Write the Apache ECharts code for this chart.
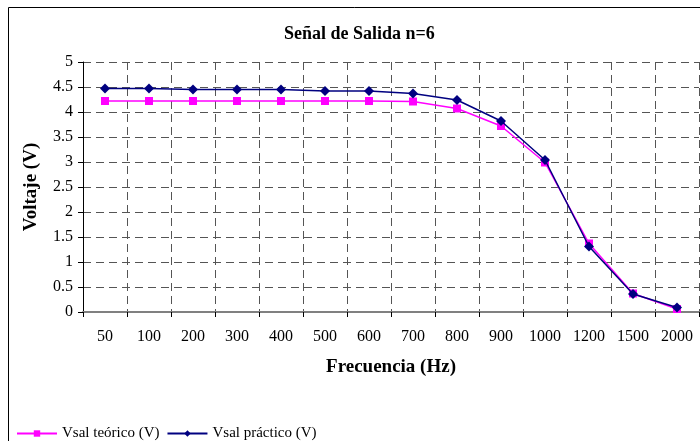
<!DOCTYPE html>
<html>
<head>
<meta charset="utf-8">
<script src="https://cdn.jsdelivr.net/npm/echarts@6/dist/echarts.min.js"></script>
<style>
  html, body { margin: 0; padding: 0; background: #fff; }
  #chart { width: 700px; height: 441px; }
</style>
</head>
<body>
<div id="chart"></div>
<script>
// Frequency steps (Hz) used as categories
const frecuencias = ['50', '100', '200', '300', '400', '500', '600', '700', '800', '900', '1000', '1200', '1500', '2000'];
// Theoretical output voltage (V)
const vsalTeorico = [4.22, 4.22, 4.22, 4.22, 4.22, 4.22, 4.22, 4.21, 4.07, 3.72, 2.99, 1.37, 0.37, 0.06];
// Measured output voltage (V)
const vsalPractico = [4.47, 4.47, 4.45, 4.45, 4.45, 4.42, 4.42, 4.37, 4.24, 3.82, 3.04, 1.31, 0.36, 0.09];

const serif = '"Liberation Serif", "Times New Roman", serif';
const gridDash = { color: '#555', width: 1, type: [8, 5] };

const chart = echarts.init(document.getElementById('chart'), null, { renderer: 'canvas' });
chart.setOption({
  backgroundColor: '#fff',
  animation: false,
  title: {
    text: 'Señal de Salida n=6',
    left: 279,
    top: 20,
    textStyle: { fontFamily: serif, fontWeight: 'bold', fontSize: 18, color: '#000' }
  },
  graphic: [{
    type: 'rect',
    shape: { x: 8.5, y: 7.5, width: 700, height: 440 },
    style: { fill: 'none', stroke: '#000', lineWidth: 1 },
    silent: true
  }],
  legend: {
    left: 11,
    top: 421,
    itemWidth: 40,
    itemHeight: 8,
    itemGap: 7,
    textStyle: { fontFamily: serif, fontSize: 15, color: '#000' },
    data: ['Vsal teórico (V)', 'Vsal práctico (V)']
  },
  grid: { left: 83, top: 62, right: 1, bottom: 129, containLabel: false },
  xAxis: {
    type: 'category',
    data: frecuencias,
    boundaryGap: true,
    name: 'Frecuencia (Hz)',
    nameLocation: 'middle',
    nameGap: 46,
    nameTextStyle: { fontFamily: serif, fontWeight: 'bold', fontSize: 19, color: '#000' },
    axisLine: { lineStyle: { color: '#808080', width: 2 } },
    axisTick: { show: true, length: 5, lineStyle: { color: '#000' } },
    axisLabel: { fontFamily: serif, fontSize: 16, color: '#000', margin: 17, interval: 0 },
    splitLine: { show: true, interval: 0, lineStyle: gridDash }
  },
  yAxis: {
    type: 'value',
    min: 0,
    max: 5,
    interval: 0.5,
    name: 'Voltaje (V)',
    nameLocation: 'middle',
    nameGap: 42,
    nameTextStyle: { fontFamily: serif, fontWeight: 'bold', fontSize: 19, color: '#000' },
    axisLine: { show: true, lineStyle: { color: '#000', width: 1 } },
    axisTick: { show: true, length: 5, lineStyle: { color: '#000' } },
    axisLabel: { fontFamily: serif, fontSize: 16, color: '#000', margin: 10 },
    splitLine: { show: true, lineStyle: gridDash }
  },
  series: [
    {
      name: 'Vsal teórico (V)',
      type: 'line',
      data: vsalTeorico,
      symbol: 'rect',
      symbolSize: 8,
      lineStyle: { color: '#FF00FF', width: 1.5 },
      itemStyle: { color: '#FF00FF' },
      z: 2
    },
    {
      name: 'Vsal práctico (V)',
      type: 'line',
      data: vsalPractico,
      symbol: 'diamond',
      symbolSize: 10,
      lineStyle: { color: '#000080', width: 1.5 },
      itemStyle: { color: '#000080' },
      z: 3
    }
  ]
});
</script>
</body>
</html>
